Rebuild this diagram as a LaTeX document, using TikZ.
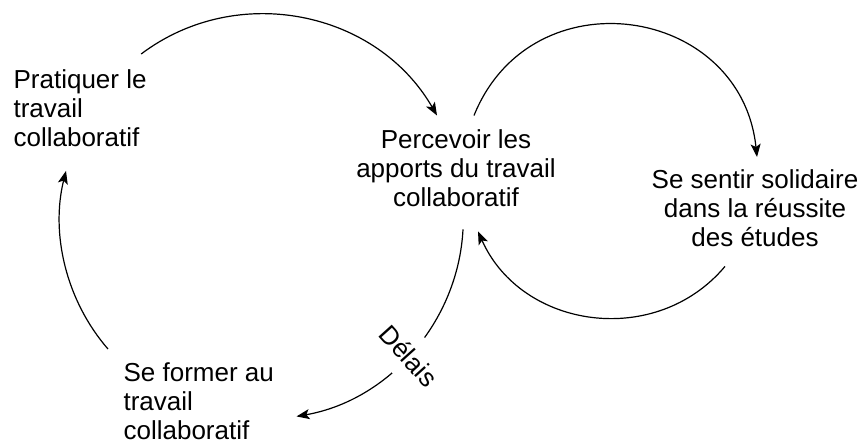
\documentclass[tikz,border=0pt]{standalone}
\usepackage{fontspec}
\setmainfont{Liberation Sans}
\usetikzlibrary{
        arrows.meta,
        positioning
    }
\tikzset{>={Stealth[length=13pt,width=10pt,inset=3pt]}}
\tikzset{etape/.style={inner sep=0pt,font=\fontsize{26}{28.8}\selectfont}}
\tikzset{delai/.style={fill=white,inner xsep=2pt,inner ysep=14pt,rotate=-48,font=\fontsize{26}{28.8}\selectfont}}

\begin{document}
\begin{tikzpicture}[x=1pt,y=1pt,line width=1.2pt]
                \useasboundingbox (0,0) rectangle (858,441);
                \node[etape,anchor=north west,align=left] (prat) at (13,372) {Pratiquer le\\travail\\collaboratif};
                \node[etape,anchor=north,align=center] (perc) at (456,311.5) {Percevoir les\\apports du travail\\collaboratif};
                \node[etape,anchor=north,align=center] (sent) at (755,271.5) {Se sentir solidaire\\dans la réussite\\des études};
                \node[etape,anchor=north west,align=left] (form) at (123,78.5) {Se former au\\travail\\collaboratif};
                \path[->]
                    ([shift={(-6pt,15pt)}]prat.north east) edge[out=37,in=120,looseness=1.02] ([shift={(-19pt,14pt)}]perc.north)
                    ([shift={(18pt,14pt)}]perc.north) edge[out=68,in=96,looseness=1.37] ([shift={(2pt,12.5pt)}]sent.north)
                    ([shift={(-30pt,-19pt)}]sent.south) edge[out=-130,in=-66,looseness=1.1] ([shift={(22pt,-24pt)}]perc.south)
                    ([shift={(7pt,-22pt)}]perc.south) edge[out=-93,in=10,looseness=0.95] node[delai,pos=0.52] {Délais} ([shift={(22pt,-15pt)}]form.east)
                    ([shift={(-15pt,13.5pt)}]form.north west) edge[out=131,in=256,looseness=0.9] ([shift={(53pt,-24pt)}]prat.south west)
                ;
            \end{tikzpicture}
\end{document}
